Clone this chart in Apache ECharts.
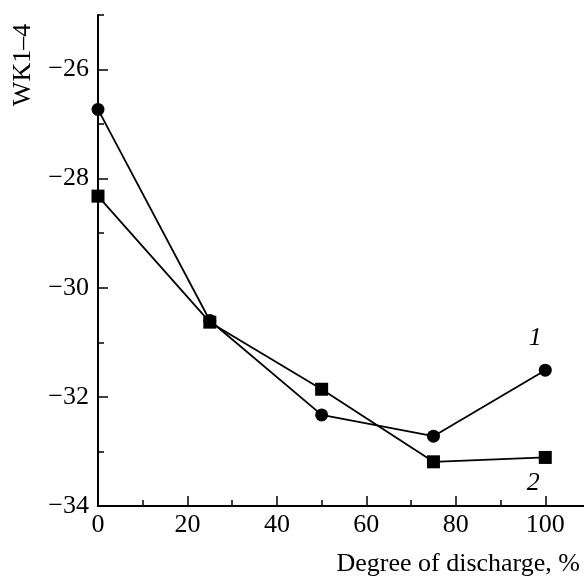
<!DOCTYPE html>
<html>
<head>
<meta charset="utf-8">
<script src="https://cdn.jsdelivr.net/npm/echarts@6/dist/echarts.min.js"></script>
<style>
  html, body { margin: 0; padding: 0; background: #fff; }
  #chart { width: 584px; height: 579px; }
</style>
</head>
<body>
<div id="chart"></div>
<script>
var discharge = [0, 25, 50, 75, 100];
var curve1 = [-26.73, -30.60, -32.33, -32.72, -31.51];
var curve2 = [-28.32, -30.63, -31.86, -33.19, -33.11];
var yMajorTicks = [-34, -32, -30, -28, -26];
var xMajorTicks = [0, 20, 40, 60, 80, 100];

var FONT = '"Liberation Serif", "DejaVu Serif", serif';

function pairs(xs, ys) {
    return xs.map(function (x, i) { return [x, ys[i]]; });
}

function endLabel(text, offset, n) {
    return {
        show: true,
        position: 'inside',
        offset: offset,
        fontFamily: FONT,
        fontSize: 26,
        fontStyle: 'italic',
        color: '#000',
        formatter: function (p) { return p.dataIndex === n - 1 ? text : ''; }
    };
}

var chart = echarts.init(document.getElementById('chart'));

var option = {
    animation: false,
    backgroundColor: '#fff',
    grid: { left: 98, top: 15, bottom: 73, right: -6, outerBoundsMode: 'none', containLabel: false },
    xAxis: [
        {
            type: 'value', min: 0, max: 110, interval: 20,
            axisLine: { lineStyle: { color: '#000', width: 2 } },
            axisTick: { inside: true, length: 10, lineStyle: { color: '#000', width: 1.5 } },
            axisLabel: {
                margin: 6, color: '#000', fontFamily: FONT, fontSize: 26,
                formatter: function (v) { return xMajorTicks.indexOf(v) >= 0 ? String(v) : ''; }
            },
            splitLine: { show: false }
        },
        {
            type: 'value', min: 0, max: 110, interval: 10, position: 'bottom',
            axisLine: { show: false },
            axisTick: { inside: true, length: 6, lineStyle: { color: '#000', width: 1.5 } },
            axisLabel: { show: false },
            splitLine: { show: false }
        }
    ],
    yAxis: [
        {
            type: 'value', min: -34, max: -25, interval: 2,
            axisLine: { show: true, lineStyle: { color: '#000', width: 2 } },
            axisTick: { show: true, inside: true, length: 10, customValues: yMajorTicks,
                lineStyle: { color: '#000', width: 1.5 } },
            axisLabel: {
                margin: 9, color: '#000', fontFamily: FONT, fontSize: 26,
                customValues: yMajorTicks,
                formatter: function (v) {
                    return yMajorTicks.indexOf(v) >= 0 ? '\u2212' + Math.abs(v) : '';
                }
            },
            splitLine: { show: false }
        },
        {
            type: 'value', min: -34, max: -25, interval: 1, position: 'left',
            axisLine: { show: false },
            axisTick: { show: true, inside: true, length: 6, lineStyle: { color: '#000', width: 1.5 } },
            axisLabel: { show: false },
            splitLine: { show: false }
        }
    ],
    series: [
        {
            name: '1', type: 'line',
            data: pairs(discharge, curve1),
            symbol: 'circle', symbolSize: 13,
            itemStyle: { color: '#000' },
            lineStyle: { color: '#000', width: 1.8 },
            label: endLabel('1', [-10, -32], discharge.length),
            z: 3
        },
        {
            name: '2', type: 'line',
            data: pairs(discharge, curve2),
            symbol: 'rect', symbolSize: 13,
            itemStyle: { color: '#000' },
            lineStyle: { color: '#000', width: 1.8 },
            label: endLabel('2', [-12, 26], discharge.length),
            z: 3
        }
    ],
    graphic: [
        {
            type: 'text', x: 23, y: 65, rotation: Math.PI / 2,
            style: { text: 'WK1\u20134', fontFamily: FONT, fontSize: 26, fill: '#000',
                align: 'center', verticalAlign: 'middle' }
        },
        {
            type: 'text', right: 4, top: 551,
            style: { text: 'Degree of discharge, %', fontFamily: FONT, fontSize: 26, fill: '#000' }
        }
    ]
};

chart.setOption(option);
</script>
</body>
</html>
